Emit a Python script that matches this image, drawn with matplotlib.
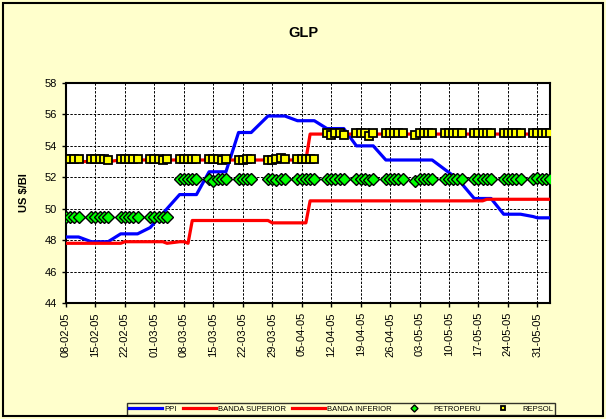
import numpy as np
import pandas as pd
import matplotlib
matplotlib.use('Agg')
import matplotlib.pyplot as plt
import matplotlib.dates as mdates
from matplotlib.patches import Rectangle

plt.rcParams['font.family'] = ['Liberation Sans', 'DejaVu Sans']

# Días hábiles del periodo (sin el viernes santo 25-03-05)
FECHAS = pd.bdate_range('2005-02-08', '2005-06-03').drop(pd.Timestamp('2005-03-25'))

# Una fila por semana (US $/Bl)
PPI = [
    [48.2, 48.2, 48.2, 48.2],
    [47.9, 47.9, 47.9, 47.9, 47.9],
    [48.4, 48.4, 48.4, 48.4, 48.4],
    [48.8, 49.1, 49.4, 49.7, 50.0],
    [50.9, 50.9, 50.9, 50.9, 50.9],
    [52.35, 52.35, 52.35, 52.35, 52.35],
    [54.85, 54.85, 54.85, 54.85],
    [55.9, 55.9, 55.9, 55.9, 55.9],
    [55.6, 55.6, 55.6, 55.6, 55.6],
    [55.1, 55.1, 55.1, 55.1, 55.1],
    [54.0, 54.0, 54.0, 54.0, 54.0],
    [53.1, 53.1, 53.1, 53.1, 53.1],
    [53.1, 53.1, 53.1, 53.1, 53.1],
    [52.5, 52.3, 52.1, 51.9, 51.6],
    [50.65, 50.65, 50.65, 50.65, 50.65],
    [49.65, 49.65, 49.65, 49.65, 49.65],
    [49.5, 49.42, 49.42, 49.42, 49.42],
]
BANDA_SUP = [
    [53.0, 53.0, 53.0, 53.0],
    [53.0, 53.0, 53.0, 53.0, 53.0],
    [53.1, 53.1, 53.1, 53.1, 53.1],
    [53.1, 53.1, 53.1, 53.1, 53.1],
    [53.1, 53.1, 53.1, 53.1, 53.1],
    [53.1, 53.1, 53.1, 53.1, 53.1],
    [53.1, 53.1, 53.1, 53.1],
    [53.1, 53.1, 53.1, 53.1, 53.1],
    [53.1, 53.1, 53.1, 54.75, 54.75],
    [54.75, 54.75, 54.75, 54.75, 54.75],
    [54.75, 54.75, 54.75, 54.75, 54.75],
    [54.75, 54.75, 54.75, 54.75, 54.75],
    [54.75, 54.75, 54.75, 54.75, 54.75],
    [54.75, 54.75, 54.75, 54.75, 54.75],
    [54.75, 54.75, 54.75, 54.75, 54.75],
    [54.75, 54.75, 54.75, 54.75, 54.75],
    [54.75, 54.75, 54.75, 54.75, 54.75],
]
BANDA_INF = [
    [47.8, 47.8, 47.8, 47.8],
    [47.8, 47.8, 47.8, 47.8, 47.8],
    [47.8, 47.9, 47.9, 47.9, 47.9],
    [47.9, 47.9, 47.9, 47.9, 47.8],
    [47.9, 47.9, 47.8, 49.25, 49.25],
    [49.25, 49.25, 49.25, 49.25, 49.25],
    [49.25, 49.25, 49.25, 49.25],
    [49.25, 49.1, 49.1, 49.1, 49.1],
    [49.1, 49.1, 49.1, 50.5, 50.5],
    [50.5, 50.5, 50.5, 50.5, 50.5],
    [50.5, 50.5, 50.5, 50.5, 50.5],
    [50.5, 50.5, 50.5, 50.5, 50.5],
    [50.5, 50.5, 50.5, 50.5, 50.5],
    [50.5, 50.5, 50.5, 50.5, 50.5],
    [50.5, 50.5, 50.5, 50.6, 50.6],
    [50.6, 50.6, 50.6, 50.6, 50.6],
    [50.6, 50.6, 50.6, 50.6, 50.6],
]
PETROPERU = [
    [49.5, 49.5, 49.5, 49.5],
    [49.5, 49.5, 49.5, 49.45, 49.5],
    [49.5, 49.5, 49.5, 49.5, 49.5],
    [49.5, 49.5, 49.5, 49.5, 49.5],
    [51.9, 51.9, 51.9, 51.9, 51.9],
    [51.9, 51.75, 51.9, 51.9, 51.9],
    [51.9, 51.9, 51.9, 51.9],
    [51.9, 51.9, 51.8, 51.9, 51.9],
    [51.9, 51.9, 51.9, 51.9, 51.9],
    [51.9, 51.9, 51.9, 51.9, 51.9],
    [51.9, 51.9, 51.9, 51.8, 51.9],
    [51.9, 51.9, 51.9, 51.9, 51.9],
    [51.75, 51.9, 51.9, 51.9, 51.9],
    [51.9, 51.9, 51.9, 51.9, 51.9],
    [51.9, 51.9, 51.9, 51.9, 51.9],
    [51.9, 51.9, 51.9, 51.9, 51.9],
    [51.9, 51.95, 51.9, 51.9, 51.9],
]
REPSOL = [
    [53.15, 53.15, 53.15, 53.15],
    [53.15, 53.15, 53.15, 53.15, 53.1],
    [53.15, 53.15, 53.15, 53.15, 53.15],
    [53.15, 53.15, 53.15, 53.1, 53.15],
    [53.15, 53.15, 53.15, 53.15, 53.15],
    [53.15, 53.15, 53.15, 53.1, 53.15],
    [53.1, 53.1, 53.15, 53.15],
    [53.1, 53.1, 53.15, 53.25, 53.15],
    [53.15, 53.15, 53.15, 53.15, 53.15],
    [54.8, 54.7, 54.8, 54.8, 54.7],
    [54.8, 54.8, 54.8, 54.65, 54.8],
    [54.8, 54.8, 54.8, 54.8, 54.8],
    [54.7, 54.8, 54.8, 54.8, 54.8],
    [54.8, 54.8, 54.8, 54.8, 54.8],
    [54.8, 54.8, 54.8, 54.8, 54.8],
    [54.8, 54.8, 54.8, 54.8, 54.8],
    [54.8, 54.8, 54.8, 54.8, 54.8],
]

AMARILLO = '#FFFFCC'


def aplanar(semanas):
    return [v for semana in semanas for v in semana]


fig = plt.figure(figsize=(6.06, 4.19), dpi=100, facecolor=AMARILLO)
ax = fig.add_axes([66 / 606, 1 - 303 / 419, (550 - 66) / 606, (303 - 83) / 419])
ax.set_facecolor('white')

ax.plot(FECHAS, aplanar(PPI), color='#0000FF', lw=2.3, label='PPI', zorder=3)
ax.plot(FECHAS, aplanar(BANDA_SUP), color='#FF0000', lw=2.3, label='BANDA SUPERIOR', zorder=3)
ax.plot(FECHAS, aplanar(BANDA_INF), color='#FF0000', lw=2.3, label='BANDA INFERIOR', zorder=3)
ax.plot(FECHAS, aplanar(PETROPERU), ls='none', marker='D', ms=6.5, mfc='#00FF00',
        mec='black', mew=1.0, label='PETROPERU', zorder=4)
ax.plot(FECHAS, aplanar(REPSOL), ls='none', marker='s', ms=5.5, mfc='#FFFF00',
        mec='black', mew=1.3, label='REPSOL', zorder=5)

ax.set_xlim(pd.Timestamp('2005-02-08'), pd.Timestamp('2005-06-03'))
ax.set_ylim(44, 58)
ax.set_yticks(np.arange(44, 59, 2))
ax.set_xticks(pd.date_range('2005-02-08', '2005-05-31', freq='7D'))
ax.xaxis.set_major_formatter(mdates.DateFormatter('%d-%m-%y'))
ax.tick_params(axis='x', rotation=90, labelsize=8, length=3, width=1, direction='out')
ax.tick_params(axis='y', labelsize=8, length=3, width=1, direction='out')
ax.grid(True, color='black', lw=0.7, ls=(0, (2.5, 1.5)))
ax.set_axisbelow(True)
for s in ax.spines.values():
    s.set_linewidth(1.5)

ax.set_ylabel('US $/Bl', fontsize=8, fontweight='bold', labelpad=11)
fig.text(0.5, 1 - 33 / 419, 'GLP', ha='center', va='center', fontsize=10.5, fontweight='bold')

leg = fig.legend(loc='center', bbox_to_anchor=(341 / 606, 1 - 409 / 419), ncol=5, fontsize=5.5,
                 frameon=True, fancybox=False, edgecolor='black', facecolor=AMARILLO,
                 handlelength=4.3, columnspacing=0.8, handletextpad=0.3, borderpad=0.25,
                 markerscale=0.55)
leg.get_frame().set_linewidth(1.0)

fig.patches.append(Rectangle((3 / 606, 3 / 419), 600 / 606, 413 / 419, transform=fig.transFigure,
                             fill=False, edgecolor='black', lw=1.5))

fig.savefig('out.png', dpi=100, facecolor=AMARILLO)
